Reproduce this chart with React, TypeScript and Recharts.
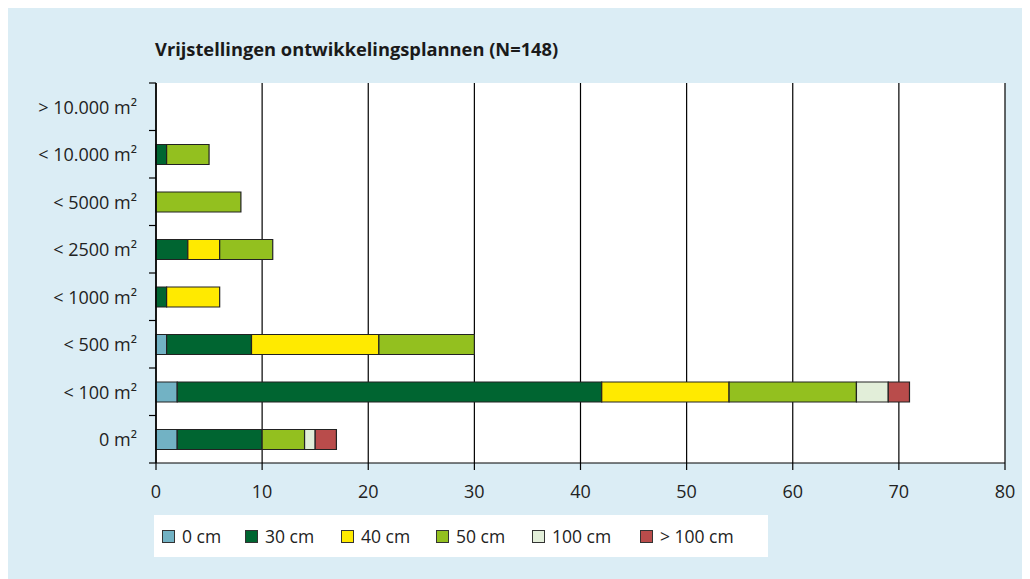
import React from 'react';
import { BarChart, Bar, XAxis, YAxis, CartesianGrid } from 'recharts';

const categories = ['> 10.000 m²', '< 10.000 m²', '< 5000 m²', '< 2500 m²', '< 1000 m²', '< 500 m²', '< 100 m²', '0 m²'];
const cm0 = [0, 0, 0, 0, 0, 1, 2, 2];
const cm30 = [0, 1, 0, 3, 1, 8, 40, 8];
const cm40 = [0, 0, 0, 3, 5, 12, 12, 0];
const cm50 = [0, 4, 8, 5, 0, 9, 12, 4];
const cm100 = [0, 0, 0, 0, 0, 0, 3, 1];
const cmOver100 = [0, 0, 0, 0, 0, 0, 2, 2];
const xTicks = [0, 10, 20, 30, 40, 50, 60, 70, 80];
const seriesNames = ['0 cm', '30 cm', '40 cm', '50 cm', '100 cm', '> 100 cm'];
const seriesKeys = ['c0', 'c30', 'c40', 'c50', 'c100', 'cOver'];
const seriesColors = ['#72b2c4', '#006531', '#ffea00', '#93c01f', '#e2eed9', '#b94c4b'];
const title = 'Vrijstellingen ontwikkelingsplannen (N=148)';

const seriesValues = [cm0, cm30, cm40, cm50, cm100, cmOver100];
const data = categories.map((name, i) => {
  const row: any = { name };
  seriesKeys.forEach((k, s) => { row[k] = seriesValues[s][i]; });
  return row;
});

const FONT = '"Open Sans", sans-serif';
const W = 1022;
const H = 571;
const MARGIN = { top: 75, right: 24, bottom: 86, left: 9 };
const Y_AXIS_W = 140;
const X_AXIS_H = 30;
const PLOT_H = H - MARGIN.top - MARGIN.bottom - X_AXIS_H;
const HALF_BAND = PLOT_H / categories.length / 2;
const TICK_SIZE = 7;
const TICK_MARGIN = 12;
const LEGEND_ITEM_W = [83, 96, 95, 96, 108, 110];

const YTick = (props: any) => {
  const { x, y, payload, index } = props;
  const lx2 = x + TICK_MARGIN + TICK_SIZE;
  const lx1 = x + TICK_MARGIN;
  return (
    <g>
      <line x1={lx1} x2={lx2} y1={y - HALF_BAND} y2={y - HALF_BAND} stroke="#000" strokeWidth={1.2} />
      {index === categories.length - 1 && (
        <line x1={lx1} x2={lx2} y1={y + HALF_BAND} y2={y + HALF_BAND} stroke="#000" strokeWidth={1.2} />
      )}
      <text x={x} y={y} dy={7} textAnchor="end" fill="#222" fontSize={18} fontFamily={FONT}>
        {payload.value}
      </text>
    </g>
  );
};

const LegendBox = () => (
  <div
    style={{
      position: 'absolute',
      left: 147,
      top: 507,
      background: '#fff',
      width: 614,
      height: 42,
      display: 'flex',
      alignItems: 'center',
      paddingLeft: 8,
      boxSizing: 'border-box',
      fontFamily: FONT,
      fontSize: 17.5,
      color: '#222',
    }}
  >
    {seriesNames.map((n, i) => (
      <div key={n} style={{ display: 'flex', alignItems: 'center', width: LEGEND_ITEM_W[i], flexShrink: 0 }}>
        <span
          style={{
            display: 'inline-block',
            width: 11,
            height: 11,
            background: seriesColors[i],
            border: '1.5px solid #333',
          }}
        />
        <span style={{ marginLeft: 7, whiteSpace: 'nowrap' }}>{n}</span>
      </div>
    ))}
  </div>
);

export default function App() {
  return (
    <div style={{ position: 'relative', width: W, height: H, background: '#dbedf5', marginLeft: -1 }}>
      <div
        style={{
          position: 'absolute',
          left: 148,
          top: 28,
          fontFamily: FONT,
          fontWeight: 700,
          fontSize: 18.3,
          color: '#1a1a1a',
          whiteSpace: 'nowrap',
        }}
      >
        {title}
      </div>
      <BarChart width={W} height={H} data={data} layout="vertical" margin={MARGIN} barCategoryGap={0}>
        <CartesianGrid horizontal={false} stroke="#000" strokeWidth={1.2} fill="#fff" />
        <XAxis
          type="number"
          domain={[0, 80]}
          ticks={xTicks}
          height={X_AXIS_H}
          axisLine={{ stroke: '#000', strokeWidth: 1.2 }}
          tickLine={{ stroke: '#000', strokeWidth: 1.2 }}
          tickSize={7}
          tickMargin={15}
          tick={{ fill: '#222', fontSize: 18, fontFamily: FONT }}
        />
        <XAxis
          xAxisId="top"
          orientation="top"
          type="number"
          domain={[0, 80]}
          ticks={xTicks}
          height={0}
          tick={false}
          tickLine={false}
          axisLine={{ stroke: '#333', strokeWidth: 1.5 }}
        />
        <YAxis
          type="category"
          dataKey="name"
          width={Y_AXIS_W}
          axisLine={{ stroke: '#000', strokeWidth: 1.5 }}
          tickLine={false}
          tickSize={TICK_SIZE}
          tickMargin={TICK_MARGIN}
          tick={<YTick />}
          interval={0}
        />
        {seriesKeys.map((k, i) => (
          <Bar
            key={k}
            dataKey={k}
            name={seriesNames[i]}
            stackId="a"
            fill={seriesColors[i]}
            stroke="#222"
            strokeWidth={1.2}
            barSize={20}
            isAnimationActive={false}
          />
        ))}
      </BarChart>
      <LegendBox />
    </div>
  );
}
